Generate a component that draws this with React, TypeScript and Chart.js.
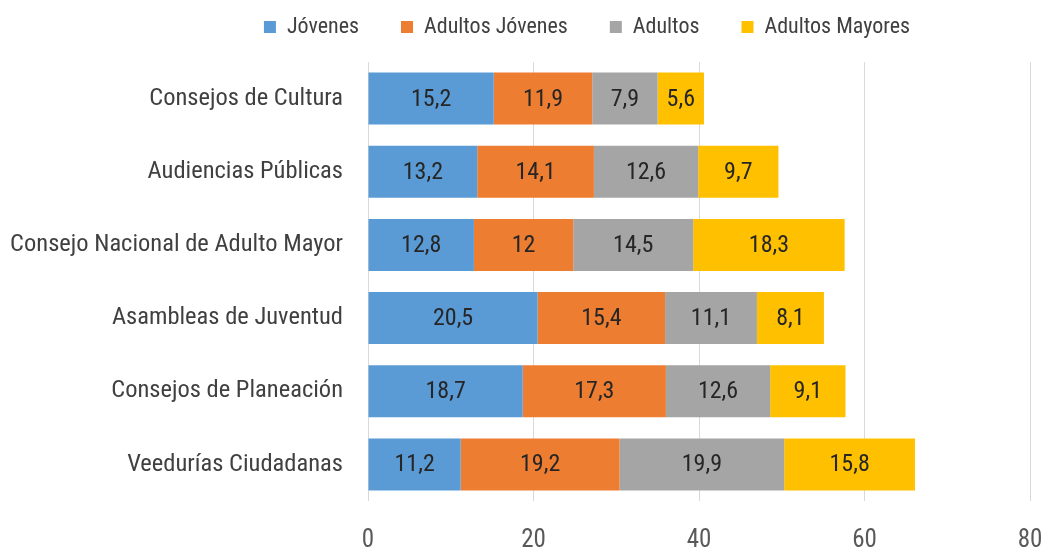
import React, { useEffect, useRef } from "react";
import { Chart, registerables } from "chart.js";

Chart.register(...registerables);

const categories = [
  "Consejos de Cultura",
  "Audiencias Públicas",
  "Consejo Nacional de Adulto Mayor",
  "Asambleas de Juventud",
  "Consejos de Planeación",
  "Veedurías Ciudadanas",
];
const seriesNames = ["Jóvenes", "Adultos Jóvenes", "Adultos", "Adultos Mayores"];
const jovenes = [15.2, 13.2, 12.8, 20.5, 18.7, 11.2];
const adultosJovenes = [11.9, 14.1, 12, 15.4, 17.3, 19.2];
const adultos = [7.9, 12.6, 14.5, 11.1, 12.6, 19.9];
const adultosMayores = [5.6, 9.7, 18.3, 8.1, 9.1, 15.8];
const colors = ["#5B9BD5", "#ED7D31", "#A5A5A5", "#FFC000"];
const xMin = 0;
const xMax = 80;
const xStep = 20;

const FONT = "'Liberation Sans Narrow', 'Arial Narrow', 'Roboto Condensed', 'Liberation Sans', sans-serif";

const fmt = (v: number) => String(v).replace(".", ",");

const dataLabels = {
  id: "dataLabels",
  afterDatasetsDraw(chart: any) {
    const ctx = chart.ctx;
    ctx.save();
    ctx.font = `24px ${FONT}`;
    ctx.fillStyle = "#262626";
    ctx.textAlign = "center";
    ctx.textBaseline = "middle";
    chart.data.datasets.forEach((ds: any, i: number) => {
      const meta = chart.getDatasetMeta(i);
      meta.data.forEach((el: any, j: number) => {
        const cx = (el.x + el.base) / 2;
        ctx.fillText(fmt(ds.data[j]), cx, el.y + 1);
      });
    });
    ctx.restore();
  },
};

const legendTweak = {
  id: "legendTweak",
  beforeInit(chart: any) {
    const lg = chart.legend;
    if (lg) {
      const orig = lg.fit;
      lg.fit = function () {
        orig.bind(this)();
        this.height = 56;
      };
    }
  },
  afterLayout(chart: any) {
    const lg = chart.legend;
    if (lg) {
      lg.left += 72;
      lg.right += 72;
      lg.top = -26;
      lg.bottom = 62;
    }
  },
};

export default function App() {
  const ref = useRef<HTMLCanvasElement>(null);
  useEffect(() => {
    if (!ref.current) return;
    const seriesData = [jovenes, adultosJovenes, adultos, adultosMayores];
    const chart = new Chart(ref.current, {
      type: "bar",
      data: {
        labels: categories,
        datasets: seriesNames.map((name, i) => ({
          label: name,
          data: seriesData[i],
          backgroundColor: colors[i],
          borderWidth: 0,
          categoryPercentage: 1,
          barPercentage: 0.71,
        })),
      },
      options: {
        indexAxis: "y",
        animation: false,
        responsive: false,
        maintainAspectRatio: false,
        layout: { padding: { top: 6, right: 15, left: 0, bottom: 0 } },
        plugins: {
          legend: {
            position: "top",
            labels: {
              boxWidth: 12,
              boxHeight: 12,
              padding: 42,
              color: "#404040",
              font: { family: FONT, size: 22 },
            },
          },
          tooltip: { enabled: false },
        },
        scales: {
          x: {
            stacked: true,
            min: xMin,
            max: xMax,
            ticks: {
              stepSize: xStep,
              color: "#595959",
              padding: 25,
              font: { family: FONT, size: 25 },
            },
            grid: { color: "#D9D9D9", lineWidth: 1, drawTicks: false },
            border: { display: false },
            afterFit(scale: any) {
              scale.height = 49;
              scale.paddingRight = 0;
              scale.paddingLeft = 0;
            },
          },
          y: {
            stacked: true,
            ticks: {
              color: "#404040",
              padding: 25,
              font: { family: FONT, size: 24.5 },
            },
            grid: { display: false, drawTicks: false },
            border: { display: false },
            afterFit(scale: any) {
              scale.width = 368;
            },
          },
        },
      },
      plugins: [dataLabels, legendTweak],
    });
    return () => chart.destroy();
  }, []);
  return (
    <div style={{ position: "absolute", left: 0, top: 0, width: 1045, height: 550, background: "#fff" }}>
      <canvas ref={ref} width={1045} height={550} style={{ display: "block" }} />
    </div>
  );
}
